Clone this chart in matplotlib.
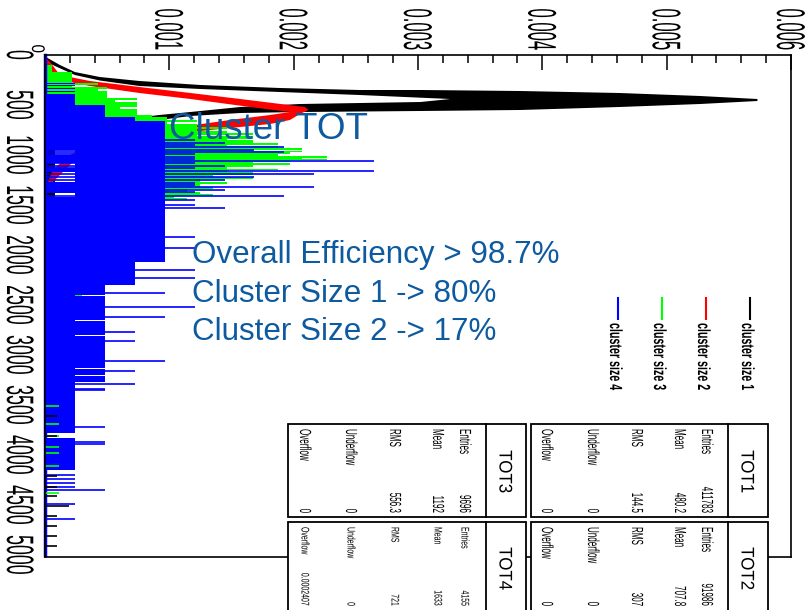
import matplotlib
matplotlib.use("Agg")
import matplotlib.pyplot as plt
import numpy as np
from matplotlib.patheffects import AbstractPathEffect
from matplotlib.transforms import Affine2D, blended_transform_factory, offset_copy
from matplotlib.patches import Rectangle
from matplotlib.lines import Line2D

# ---- data (values in units of 1e-3, TOT on the vertical axis) ----
val_ticks = [0.0, 0.001, 0.002, 0.003, 0.004, 0.005, 0.006]
val_labels = ["0", "0.001", "0.002", "0.003", "0.004", "0.005", "0.006"]
tot_ticks = [0, 500, 1000, 1500, 2000, 2500, 3000, 3500, 4000, 4500, 5000]

# cluster size 1 : outline band (polygon in tot / value)
black_tot = [0, 30, 100, 170, 220, 260, 300, 330, 350, 350, 360, 380, 410, 440,
             460, 490, 520, 550, 560, 570, 580, 610, 650, 710, 760, 850, 950, 1450,
             1460, 860, 770, 710, 660, 600, 570, 520, 490, 470, 440, 400, 370, 340,
             310, 255, 200, 110, 60]
black_val = [0, 0.02, 0.12, 0.24, 0.44, 0.76, 1.25, 1.89, 2.53, 3.02, 3.82, 4.62, 5.27, 5.73,
             5.73, 5.27, 4.62, 3.82, 3.02, 2.05, 1.57, 1.17, 0.92, 0.52, 0.24, 0.12, 0.08, 0.08,
             0.0, 0.0, 0.12, 0.24, 0.52, 0.92, 1.17, 1.57, 2.05, 3.02, 3.26, 2.53, 1.89, 1.25,
             0.76, 0.44, 0.24, 0.08, 0.0]
black_tail_tot = [3610, 3810, 4210, 4320, 4410, 4510, 4610, 4710, 4810, 4910]
black_tail_val = [0.10, 0.10, 0.10, 0.10, 0.10, 0.19, 0.10, 0.10, 0.10, 0.10]

# cluster size 2
red_tot = [20, 70, 200, 230, 260, 320, 380, 440, 480, 520, 550, 590, 650, 690, 730, 780,
           850, 950, 1050, 1200, 1350, 1150, 1000, 900, 800, 720, 650, 600, 570, 520, 440,
           380, 310, 250, 150]
red_val = [0, 0.04, 0.12, 0.24, 0.36, 0.76, 1.17, 1.57, 1.83, 2.09, 2.12, 2.05, 1.97, 1.81,
           1.49, 1.09, 0.68, 0.36, 0.24, 0.12, 0.0, 0.06, 0.20, 0.36, 0.68, 1.09, 1.49, 1.81,
           1.97, 1.65, 1.17, 0.76, 0.36, 0.12, 0.0]

# cluster size 3
green_edges = [0, 100, 170, 280, 300, 320, 340, 360, 380, 430, 450, 470, 520, 540, 600, 620,
               650, 670, 690, 720, 740, 760, 780, 800, 810, 840, 850, 880, 900, 910, 930, 950,
               960, 970, 990, 1010, 1030, 1040, 1050, 1070, 1080, 1100, 1120, 1135, 1150, 1170,
               1200, 1220, 1240, 1270, 1290, 1320, 1340, 1370, 1390, 1410, 1430, 1450, 1550,
               1700, 2100, 2600, 3400]
green_hi = [0, 0.06, 0.22, 0.43, 0.22, 0.50, 0.43, 0.50, 0.50, 0.74, 0.56, 0.74, 0.60, 0.74,
            0.86, 0.98, 1.22, 0.98, 1.22, 1.46, 1.22, 1.46, 1.67, 1.22, 1.67, 1.46, 1.67, 1.87,
            1.46, 1.87, 2.07, 1.67, 2.07, 1.97, 1.87, 2.27, 2.07, 2.27, 1.97, 1.67, 1.97, 1.67,
            1.46, 1.87, 1.46, 1.67, 1.35, 1.67, 1.25, 1.46, 1.25, 1.35, 1.14, 1.25, 1.35, 1.04,
            1.14, 0.90, 0.70, 0.45, 0.30, 0.15]
green_lo = [0.30 if 880 <= e < 1450 else 0.0 for e in green_edges[:-1]]
green_tail_tot = [3510, 3690, 3810, 3920, 3980, 4110, 4380]
green_tail_val = [0.11, 0.11, 0.11, 0.11, 0.11, 0.11, 0.11]

# cluster size 4 (counts, 1 count = 1/4155)
blue_entries = 4155
blue_edges = [0, 280, 290, 300, 310, 330, 340, 360, 370, 390, 500, 620, 660, 950, 1000, 1080,
              1130, 1170, 1270, 1380, 1420, 1800, 2070, 2300, 2400, 2410, 2650, 2660, 2800,
              2810, 3130, 3140, 3200, 3210, 3270, 3780, 3830, 4150, 5000]
blue_hi = [0, 1, 0, 1, 0, 1, 0, 1, 0, 1, 2, 3, 4, 4, 4, 4, 4, 4, 4, 4, 4, 4, 3, 2, 1, 2, 1, 2,
           1, 2, 1, 2, 1, 2, 1, 0, 1, 0]
blue_lo = [0, 0, 0, 0, 0, 0, 0, 0, 0, 0, 0, 0, 0, 1, 0, 1, 0, 1, 0, 1, 0, 0, 0, 0, 0, 0, 0, 0,
           0, 0, 0, 0, 0, 0, 0, 0, 0, 0]
blue_spike_tot = [850, 880, 900, 920, 950, 970, 990, 1020, 1040, 1060, 1080, 1110, 1130, 1160,
                  1190, 1220, 1250, 1280, 1300, 1320, 1350, 1370, 1410, 1450, 1500, 1530, 1820,
                  1930, 2150, 2230, 2380, 2520, 2620, 2770, 2860, 3060, 3160, 3290, 3340, 3350,
                  3720, 3870, 3890, 4200, 4240, 4280, 4320, 4350, 4490, 4640]
blue_spike_cnt = [5, 6, 5, 8, 7, 8, 5, 5, 5, 11, 5, 6, 5, 11, 9, 7, 6, 5, 5, 9, 6, 5, 8, 5, 5,
                  6, 5, 5, 5, 5, 4, 5, 4, 3, 3, 4, 3, 3, 2, 2, 2, 2, 2, 1, 1, 1, 1, 2, 1, 1]

series_names = ["cluster size 1", "cluster size 2", "cluster size 3", "cluster size 4"]
series_colors = ["black", "#ff0000", "#00ff00", "#0000ff"]

stats_titles = ["TOT1", "TOT2", "TOT3", "TOT4"]
stats_labels = ["Entries", "Mean", "RMS", "Underflow", "Overflow"]
stats_values = [["411783", "480.2", "144.5", "0", "0"],
                ["91986", "707.8", "307", "0", "0"],
                ["9696", "1192", "556.3", "0", "0"],
                ["4155", "1633", "721", "0", "0.0002407"]]

notes = ["Overall Efficiency > 98.7%", "Cluster Size 1 -> 80%", "Cluster Size 2 -> 17%"]

W, H = 807, 610
FONT = "Liberation Sans"
TXT_BLUE = "#0d5aa0"


class Stretch(AbstractPathEffect):
    """stretch glyphs along their height (the ROOT canvas was squashed)"""
    def __init__(self, sy):
        super().__init__()
        self.sy = sy

    def draw_path(self, renderer, gc, tpath, affine, rgbFace=None):
        renderer.draw_path(gc, tpath, Affine2D().scale(1, self.sy) + affine, rgbFace)


def fx(px):
    return px / W


def fy(py):
    return 1 - py / H


def rtext(x, y, s, size, sy, ha, weight="normal", color="black"):
    # rotated text, baseline on the left, reading downwards
    fig.text(fx(x), fy(y), s, rotation=-90, rotation_mode="anchor", ha=ha, va="baseline",
             fontsize=size, family=FONT, weight=weight, color=color,
             path_effects=[Stretch(sy)])


fig = plt.figure(figsize=(W / 100, H / 100), dpi=100)
ax = fig.add_axes([fx(45), fy(557), fx(791) - fx(45), fy(55) - fy(557)])

e3 = 1e-3
ax.fill(np.array(black_val) * e3, black_tot, color="black", lw=0)
ax.fill(np.array(red_val) * e3, red_tot, color="#ff0000", lw=0)
ax.stairs(np.array(green_hi) * e3, green_edges, baseline=np.array(green_lo) * e3,
          orientation="horizontal", fill=True, color="#00ff00", lw=0)
q = 1.0 / blue_entries
ax.stairs(np.array(blue_hi) * q, blue_edges, baseline=np.array(blue_lo) * q,
          orientation="horizontal", fill=True, color="#0000ff", lw=0)
ax.hlines(blue_spike_tot, 0, np.array(blue_spike_cnt) * q, color="#0000ff", lw=1.2)
ax.plot([0, 0], [blue_edges[0], blue_edges[-1]], color="#0000ff", lw=2.5, clip_on=False)
ax.hlines(green_tail_tot, 0, np.array(green_tail_val) * e3, color="#00ff00", lw=1.2)
ax.hlines(black_tail_tot, 0, np.array(black_tail_val) * e3, color="black", lw=1.2)

ax.set_xlim(0, 0.006)
ax.set_ylim(5020, 0)
ax.xaxis.set_ticks_position("top")
ax.set_xticks(val_ticks)
ax.set_xticks(np.arange(0, 0.0061, 0.0002), minor=True)
ax.tick_params(axis="x", which="major", direction="in", length=11, width=1.1,
               labeltop=False, labelbottom=False)
ax.tick_params(axis="x", which="minor", direction="in", length=5.5, width=1.1)
ax.set_yticks([])
for sp in ax.spines.values():
    sp.set_linewidth(1.2)

# tick labels, rotated and stretched like the original
top_tr = blended_transform_factory(ax.transData, ax.transAxes)
for v, lab in zip(val_ticks, val_labels):
    if lab == "0":
        ax.text(v, 1, lab, transform=offset_copy(top_tr, fig=fig, x=-13, y=2, units="dots"),
                rotation=-90, rotation_mode="anchor", ha="right", va="baseline",
                fontsize=11, family=FONT, path_effects=[Stretch(1.2)], clip_on=False)
    else:
        ax.text(v, 1, lab, transform=offset_copy(top_tr, fig=fig, x=-14, y=5, units="dots"),
                rotation=-90, rotation_mode="anchor", ha="right", va="baseline",
                fontsize=12, family=FONT, path_effects=[Stretch(2.4)], clip_on=False)
left_tr = blended_transform_factory(ax.transAxes, ax.transData)
for t in tot_ticks:
    ax.text(0, t, str(t), transform=offset_copy(left_tr, fig=fig, x=-38, y=0, units="dots"),
            rotation=-90, rotation_mode="anchor", ha="center", va="baseline",
            fontsize=12.8, family=FONT, path_effects=[Stretch(2.15)], clip_on=False)

# titles / notes
fig.text(fx(169), fy(139), "Cluster TOT", fontsize=26.5, family=FONT, color=TXT_BLUE,
         ha="left", va="baseline")
for i, s in enumerate(notes):
    fig.text(fx(192), fy(263 + 38.5 * i), s, fontsize=22.6, family=FONT, color=TXT_BLUE,
             ha="left", va="baseline")

# legend
for i, (name, col) in enumerate(zip(series_names, series_colors)):
    xc = 750 - 44 * i
    fig.add_artist(Line2D([fx(xc), fx(xc)], [fy(298), fy(319)], color=col, lw=1.5))
    rtext(xc - 8, 323, name, 7.7, 1.65, "left", weight="bold")

# stats boxes
boxes = [(531, 424, 768, 517), (531, 522, 768, 613), (288, 424, 526, 517), (288, 522, 526, 613)]
row_off = [20, 47, 90, 134, 180]
for k, (x0, y0, x1, y1) in enumerate(boxes):
    fig.add_artist(Rectangle((fx(x0), fy(y1)), fx(x1) - fx(x0), fy(y0) - fy(y1),
                             transform=fig.transFigure, facecolor="white", edgecolor="black",
                             lw=1.3))
    sep = x1 - 40
    fig.add_artist(Line2D([fx(sep), fx(sep)], [fy(y0), fy(y1)], color="black", lw=1.3))
    rtext((sep + x1) / 2 - 6.5, (y0 + y1) / 2 + 1, stats_titles[k], 12.2, 1.08, "center")
    if k == 3:
        fs, sy, hh = 5.0, 1.6, 4.5
    else:
        fs, sy, hh = 5.8, 2.0, 6
    for r in range(5):
        xb = sep - row_off[r] - hh
        rtext(xb, y0 + 5, stats_labels[r], fs, sy, "left")
        rtext(xb, min(y1, 610) - 4, stats_values[k][r], fs, sy, "right")

fig.savefig("out.png", dpi=100)
